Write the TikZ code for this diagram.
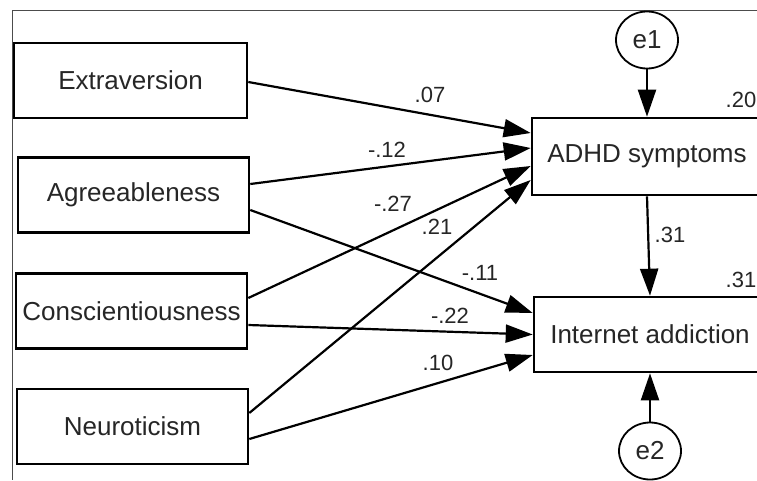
\documentclass[tikz,border=0pt]{standalone}
\usepackage{fontspec}
\setmainfont{Liberation Sans}
\usetikzlibrary{arrows.meta,shapes.geometric}

\begin{document}
\begin{tikzpicture}[
      x=1pt, y=-1pt,
      font=\fontsize{26}{30}\selectfont,
      var/.style={draw, line width=2.6pt, minimum height=75pt, inner sep=0pt, text=black!85},
      err/.style={ellipse, draw, line width=1.8pt, minimum width=62pt, minimum height=57pt, inner sep=0pt, text=black!85},
      path/.style={line width=2.2pt, -{Triangle[length=27pt,width=18pt]}},
      coef/.style={font=\fontsize{22}{26}\selectfont, text=black!85}
    ]
    \clip (0,0) rectangle (757,480);
    \fill[white] (0,0) rectangle (757,480);
    % Frame of the cut-out figure.
    \draw[black!70, line width=1pt] (757,10) -- (12,10) -- (12,480);
    % Draw the observed variables.
    \node[var, minimum width=233pt] (extra) at (130.5,80.5) {Extraversion};
    \node[var, minimum width=231pt] (agree) at (133.5,195) {Agreeableness};
    \node[var, minimum width=231pt] (consc) at (131.5,311) {Conscientiousness};
    \node[var, minimum width=231pt] (neuro) at (132.5,426.5) {Neuroticism};
    \node[var, minimum width=230pt, minimum height=77pt] (adhd) at (647,156.5) {ADHD symptoms};
    \node[var, minimum width=232pt] (net) at (650,334.5) {Internet addiction};
    % Draw the error terms.
    \node[err] (e1) at (647,40) {e1};
    \node[err] (e2) at (650,451) {e2};
    % Draw the paths.
    \draw[path] ([yshift=-1.5pt]extra.east) -- ([yshift=23.5pt]adhd.west);
    \draw[path] ([yshift=11pt]agree.east) -- ([yshift=8.5pt]adhd.west);
    \draw[path] ([yshift=-15pt]agree.east) -- ([yshift=21.5pt]net.west);
    \draw[path] ([yshift=13pt]consc.east) -- ([yshift=-9.5pt]adhd.west);
    \draw[path] ([yshift=-14pt]consc.east) -- (net.west);
    \draw[path] ([yshift=13.5pt]neuro.east) -- ([yshift=-23.5pt]adhd.west);
    \draw[path] ([yshift=-12.5pt]neuro.east) -- ([yshift=-20.5pt]net.west);
    \draw[path] (e1.south) -- (e1.south |- adhd.north);
    \draw[path] (adhd.south) -- (net.north);
    \draw[path] (e2.north) -- (e2.north |- net.south);
    % Path coefficients.
    \node[coef] (c1) at (430,95) {.07};
    \node[coef] (c2) at (387,150) {-.12};
    \node[coef] (c3) at (393,204) {-.27};
    \node[coef] (c4) at (437,227) {.21};
    \node[coef] (c5) at (480,273) {-.11};
    \node[coef] (c6) at (450,316) {-.22};
    \node[coef] (c7) at (438,363) {.10};
    \node[coef] (c8) at (670,235) {.31};
    % Explained variance.
    \node[coef] (r1) at (741,100) {.20};
    \node[coef] (r2) at (741,280) {.31};
\end{tikzpicture}
\end{document}
